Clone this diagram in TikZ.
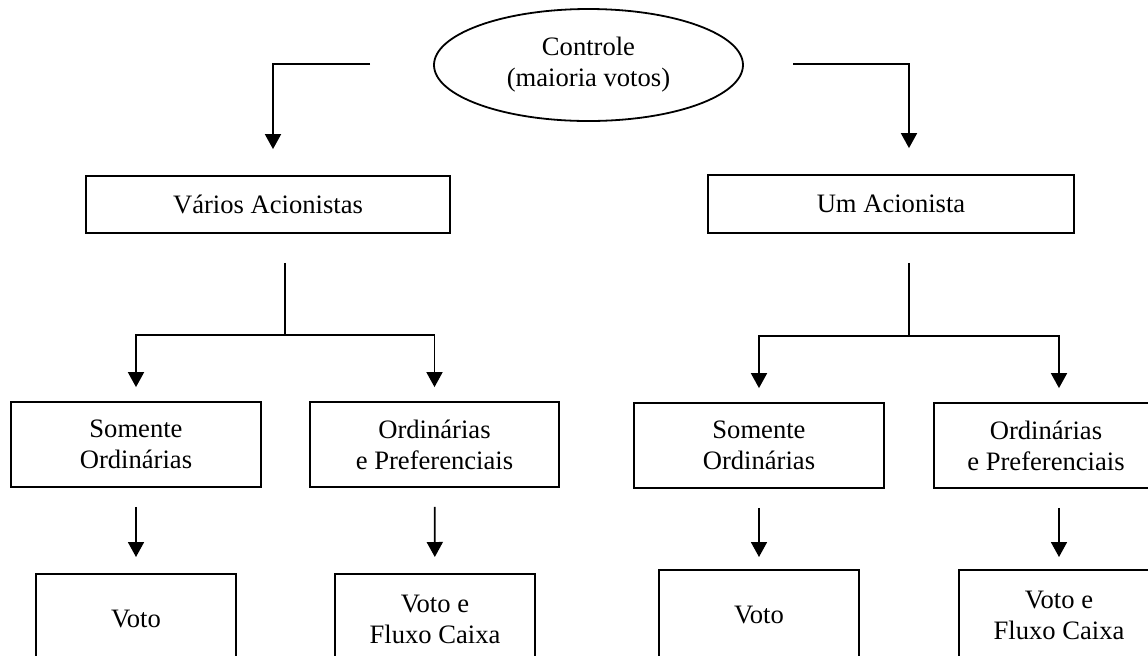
\documentclass[tikz,border=0pt]{standalone}
\usepackage{fontspec}
\setmainfont{Liberation Serif}
\usetikzlibrary{arrows.meta, positioning, shapes.geometric}

\begin{document}
\begin{tikzpicture}[
    x=0.5pt, y=-0.5pt,
    font=\fontsize{13.3}{15.5}\selectfont,
    box/.style={rectangle, draw, line width=0.9pt, inner sep=0pt, align=center},
    oval/.style={ellipse, draw, line width=0.9pt, inner sep=0pt, align=center,
                 minimum width=154.5pt, minimum height=56pt},
    line/.style={line width=0.9pt},
    arrow/.style={line width=0.9pt, -{Triangle[length=7.5pt, width=8pt]}}
  ]
    \clip (0,0) rectangle (1148,655);

    \node[oval] (ctrl) at (588.5,65) {\raisebox{-2.5pt}{\begin{tabular}{@{}c@{}}Controle\\(maioria votos)\end{tabular}}};
    \node[box, minimum width=182pt, minimum height=28.5pt] (vario) at (268,204.5) {Vários Acionistas};
    \node[box, minimum width=183pt, minimum height=29pt] (um) at (891,204) {Um Acionista};

    \node[box, minimum width=125pt, minimum height=42.5pt] (som1) at (136,444.5) {Somente\\Ordinárias};
    \node[box, minimum width=124.5pt, minimum height=42.5pt] (pref1) at (434.5,444.5) {Ordinárias\\e Preferenciais};
    \node[box, minimum width=125pt, minimum height=42.5pt] (som2) at (759,445.5) {Somente\\Ordinárias};
    \node[box, minimum width=112pt, minimum height=42.5pt] (pref2) at (1046,445.5) {Ordinárias\\e Preferenciais};

    \node[box, anchor=north, minimum width=100pt, minimum height=46pt] (voto1) at (136,573) {\raisebox{1pt}{Voto}};
    \node[box, anchor=north, minimum width=100pt, minimum height=46pt] (fluxo1) at (435,573) {Voto e\\Fluxo Caixa};
    \node[box, anchor=north, minimum width=100pt, minimum height=46pt] (voto2) at (759,569) {\raisebox{1pt}{Voto}};
    \node[box, anchor=north, minimum width=100pt, minimum height=46pt] (fluxo2) at (1059,569) {Voto e\\Fluxo Caixa};

    \coordinate (cl) at (370,64);
    \coordinate (cr) at (793,64);
    \coordinate (vj) at (285,335);
    \coordinate (uj) at (909,336);

    \draw[arrow, shorten >=13pt] (cl) -| ([xshift=2.5pt]vario.north);
    \draw[arrow, shorten >=13pt] (cr) -| ([xshift=9pt]um.north);

    \draw[line] ([xshift=8.5pt, yshift=-14.5pt]vario.south) -- (vj);
    \draw[arrow, shorten >=7pt] (vj) -| (som1.north);
    \draw[arrow, shorten >=7pt] (vj) -| (pref1.north);
    \draw[line] ([xshift=9pt, yshift=-14.5pt]um.south) -- (uj);
    \draw[arrow, shorten >=7pt] (uj) -| (som2.north);
    \draw[arrow, shorten >=7pt] (uj) -| ([xshift=6.5pt]pref2.north);

    \draw[arrow, shorten <=9.5pt, shorten >=8pt] (som1) -- (voto1);
    \draw[arrow, shorten <=9.5pt, shorten >=8pt] (pref1) -- (fluxo1);
    \draw[arrow, shorten <=9.5pt, shorten >=6pt] (som2) -- (voto2);
    \draw[arrow, shorten <=9.5pt, shorten >=6pt] ([xshift=6.5pt]pref2.south) -- (fluxo2.north);
  \end{tikzpicture}
\end{document}
